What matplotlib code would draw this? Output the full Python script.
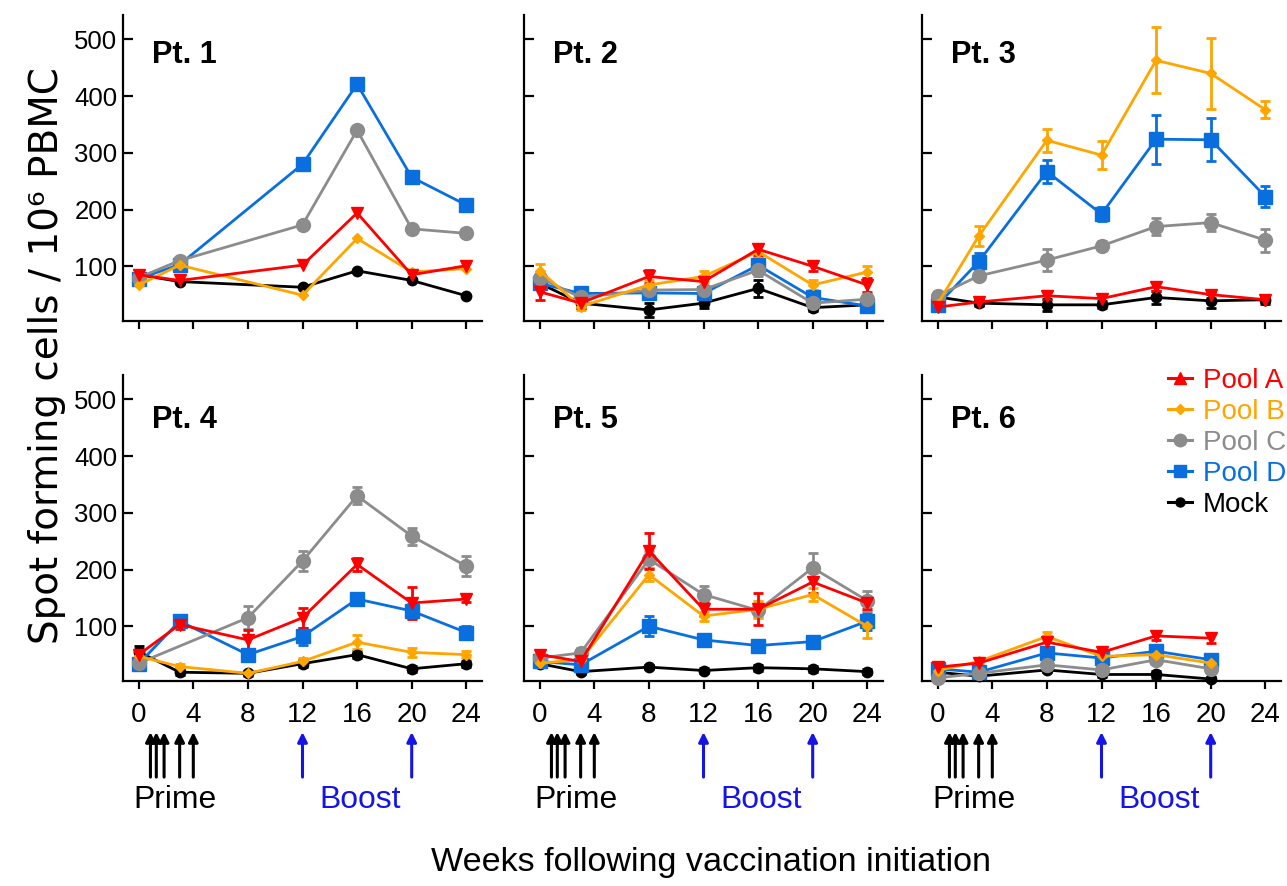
import numpy as np
import matplotlib
matplotlib.use("Agg")
import matplotlib.pyplot as plt
from matplotlib import font_manager as fm
from matplotlib.lines import Line2D

# ---------------- data ----------------
weeks_p1 = [0, 3, 12, 16, 20, 24]
weeks_full = [0, 3, 8, 12, 16, 20, 24]
weeks_p6 = [0, 3, 8, 12, 16, 20]

p1_A = [85, 75, 102, 194, 85, 101]
p1_B = [67, 102, 49, 149, 90, 96]
p1_C = [80, 110, 173, 340, 166, 158]
p1_D = [78, 103, 280, 421, 257, 208]
p1_M = [85, 73, 63, 92, 75, 48]

p2_A = [55, 35, 82, 73, 130, 100, 67]
p2_B = [92, 29, 67, 82, 126, 67, 90]
p2_C = [80, 45, 58, 59, 93, 35, 42]
p2_D = [70, 52, 53, 52, 102, 45, 30]
p2_M = [70, 35, 23, 35, 61, 27, 32]
p2_A_err = [15, 8, 12, 10, 10, 8, 12]
p2_B_err = [12, 6, 8, 10, 10, 8, 10]
p2_C_err = [10, 8, 8, 6, 10, 8, 8]
p2_D_err = [10, 8, 8, 6, 12, 8, 8]
p2_M_err = [10, 8, 12, 8, 15, 6, 8]

p3_A = [28, 37, 48, 43, 64, 50, 41]
p3_B = [34, 153, 322, 296, 463, 440, 376]
p3_C = [48, 83, 111, 136, 170, 177, 146]
p3_D = [32, 108, 267, 192, 324, 323, 223]
p3_M = [46, 35, 32, 32, 45, 39, 41]
p3_A_err = [5, 6, 8, 6, 8, 6, 5]
p3_B_err = [5, 18, 20, 25, 58, 62, 15]
p3_C_err = [6, 8, 20, 8, 15, 15, 20]
p3_D_err = [6, 15, 20, 12, 43, 38, 18]
p3_M_err = [6, 5, 10, 6, 12, 12, 8]

p4_A = [50, 103, 76, 115, 209, 141, 148]
p4_B = [47, 29, 17, 38, 72, 54, 50]
p4_C = [35, None, 115, 215, 330, 259, 206]
p4_D = [34, 109, 50, 82, 148, 127, 89]
p4_M = [55, 19, 17, 34, 50, 25, 34]
p4_A_err = [10, 8, 18, 18, 12, 28, 5]
p4_B_err = [5, 5, 4, 6, 12, 8, 6]
p4_C_err = [10, None, 20, 18, 15, 15, 18]
p4_D_err = [8, 10, 8, 15, 10, 12, 12]
p4_M_err = [10, 5, 4, 6, 6, 5, 5]

p5_A = [50, 38, 233, 130, 130, 178, 141]
p5_B = [35, 41, 191, 118, 130, 156, 100]
p5_C = [44, 53, 218, 156, 128, 203, 145]
p5_D = [38, 32, 100, 76, 66, 73, 109]
p5_M = [34, 20, 28, 22, 27, 25, 20]
p5_A_err = [8, 6, 32, 12, 28, 20, 10]
p5_B_err = [6, 6, 12, 8, 15, 12, 20]
p5_C_err = [6, 8, 15, 15, 12, 27, 18]
p5_D_err = [6, 6, 18, 10, 10, 10, 15]
p5_M_err = [5, 4, 4, 4, 5, 5, 4]

p6_A = [28, 35, 72, 54, 83, 79]
p6_B = [22, 38, 82, 47, 50, 35]
p6_C = [9, 17, 32, 23, 41, 25]
p6_D = [25, 19, 53, 44, 56, 41]
p6_M = [19, 12, 23, 15, 15, 7]
p6_A_err = [6, 8, 10, 8, 8, 8]
p6_B_err = [4, 5, 8, 5, 8, 8]
p6_C_err = [4, 4, 6, 5, 6, 5]
p6_D_err = [5, 4, 8, 6, 8, 8]
p6_M_err = [4, 4, 4, 4, 6, 4]

series_names = ["Pool A", "Pool B", "Pool C", "Pool D", "Mock"]
panel_titles = ["Pt. 1", "Pt. 2", "Pt. 3", "Pt. 4", "Pt. 5", "Pt. 6"]
x_ticks = [0, 4, 8, 12, 16, 20, 24]
y_ticks = [100, 200, 300, 400, 500]
prime_weeks = [0.86, 1.29, 1.86, 3, 4]
boost_weeks = [12, 20]

panels = [
    (weeks_p1, [p1_A, p1_B, p1_C, p1_D, p1_M], None),
    (weeks_full, [p2_A, p2_B, p2_C, p2_D, p2_M], [p2_A_err, p2_B_err, p2_C_err, p2_D_err, p2_M_err]),
    (weeks_full, [p3_A, p3_B, p3_C, p3_D, p3_M], [p3_A_err, p3_B_err, p3_C_err, p3_D_err, p3_M_err]),
    (weeks_full, [p4_A, p4_B, p4_C, p4_D, p4_M], [p4_A_err, p4_B_err, p4_C_err, p4_D_err, p4_M_err]),
    (weeks_full, [p5_A, p5_B, p5_C, p5_D, p5_M], [p5_A_err, p5_B_err, p5_C_err, p5_D_err, p5_M_err]),
    (weeks_p6, [p6_A, p6_B, p6_C, p6_D, p6_M], [p6_A_err, p6_B_err, p6_C_err, p6_D_err, p6_M_err]),
]

# ---------------- styles ----------------
colors = ["#FF0000", "#FFA500", "#8C8C8C", "#0A6FDE", "#000000"]
markers = ["v", "D", "o", "s", "o"]
msizes = [8.5, 5.5, 10, 10, 7.5]
leg_markers = ["^", "D", "o", "s", "o"]
leg_msizes = [8, 5, 9, 9, 6.5]
boost_color = "#1414E6"

names = {f.name for f in fm.fontManager.ttflist}
if "Liberation Sans Narrow" in names:
    NARROW = "Liberation Sans Narrow"
    k = 1.0
else:
    NARROW = "Liberation Sans"
    k = 0.82

plt.rcParams["font.family"] = ["Liberation Sans", "DejaVu Sans"]

W, H = 1287, 886
fig = plt.figure(figsize=(W / 100, H / 100), dpi=100)

col_left = [123, 524, 922]
col_w = 359
row_top = [15, 375]
row_h = 306
title_y = [0.843, 0.827]

draw_order = [4, 3, 2, 1, 0]

axes = []
for i, (weeks, vals, errs) in enumerate(panels):
    r, c = divmod(i, 3)
    ax = fig.add_axes([col_left[c] / W, 1 - (row_top[r] + row_h) / H, col_w / W, row_h / H])
    axes.append(ax)
    for s in draw_order:
        v = np.array([np.nan if x is None else x for x in vals[s]], dtype=float)
        wk = np.array(weeks, dtype=float)
        m = ~np.isnan(v)
        if errs is not None:
            e = np.array([np.nan if x is None else x for x in errs[s]], dtype=float)
            ax.errorbar(wk[m], v[m], yerr=e[m], color=colors[s], marker=markers[s],
                        ms=msizes[s], lw=2, elinewidth=2, capsize=3.5, capthick=2,
                        clip_on=False, zorder=3)
        else:
            ax.plot(wk[m], v[m], color=colors[s], marker=markers[s], ms=msizes[s],
                    lw=2, clip_on=False, zorder=3)
    ax.set_xlim(-1.15, 25.15)
    ax.set_ylim(3.5, 543)
    ax.set_xticks(x_ticks)
    ax.set_yticks(y_ticks)
    for sp in ["top", "right"]:
        ax.spines[sp].set_visible(False)
    for sp in ["left", "bottom"]:
        ax.spines[sp].set_linewidth(1.6)
    ax.tick_params(axis="y", direction="in", length=7, width=1.6, labelsize=18.5, pad=4)
    ax.tick_params(axis="x", direction="out", length=6, width=1.6, labelsize=20, pad=9)
    if r == 0:
        ax.tick_params(axis="x", labelbottom=False)
    if c > 0:
        ax.tick_params(axis="y", labelleft=False)
    ax.text(0.08, title_y[r], panel_titles[i], transform=ax.transAxes, ha="left",
            va="baseline", fontsize=27 * k, fontweight="bold", family=NARROW)

    if r == 1:
        tr = ax.get_xaxis_transform()
        for w in prime_weeks:
            ax.annotate("", xy=(w, -0.167), xytext=(w, -0.314), xycoords=tr, textcoords=tr,
                        arrowprops=dict(arrowstyle="-|>", color="black", lw=2.2,
                                        mutation_scale=14, shrinkA=0, shrinkB=0),
                        annotation_clip=False)
        for w in boost_weeks:
            ax.annotate("", xy=(w, -0.167), xytext=(w, -0.314), xycoords=tr, textcoords=tr,
                        arrowprops=dict(arrowstyle="-|>", color=boost_color, lw=2.2,
                                        mutation_scale=14, shrinkA=0, shrinkB=0),
                        annotation_clip=False)
        ax.text(2.65, -0.415, "Prime", transform=tr, ha="center", va="baseline",
                fontsize=28 * k, family=NARROW, color="black")
        ax.text(16.2, -0.415, "Boost", transform=tr, ha="center", va="baseline",
                fontsize=28 * k, family=NARROW, color=boost_color)

# legend
handles = [Line2D([0], [0], color=colors[s], marker=leg_markers[s], ms=leg_msizes[s],
                  lw=2.2) for s in range(5)]
leg = fig.legend(handles, series_names, loc="upper left",
                 bbox_to_anchor=(1168 / W, 1 - 368 / H), frameon=False,
                 borderaxespad=0, borderpad=0, handlelength=0.85, handletextpad=0.4,
                 labelspacing=0.18, prop=dict(family=NARROW, size=20))
for t, ccol in zip(leg.get_texts(), colors):
    t.set_color(ccol)

fig.text(47 / W, 1 - 356 / H, "Spot forming cells / 10⁶ PBMC", rotation=90,
         ha="center", va="center", fontsize=28, family=["DejaVu Sans"])
fig.text(711 / W, 1 - 863 / H, "Weeks following vaccination initiation",
         ha="center", va="center", fontsize=30 * k, family=NARROW)

fig.savefig("out.png", dpi=100)
